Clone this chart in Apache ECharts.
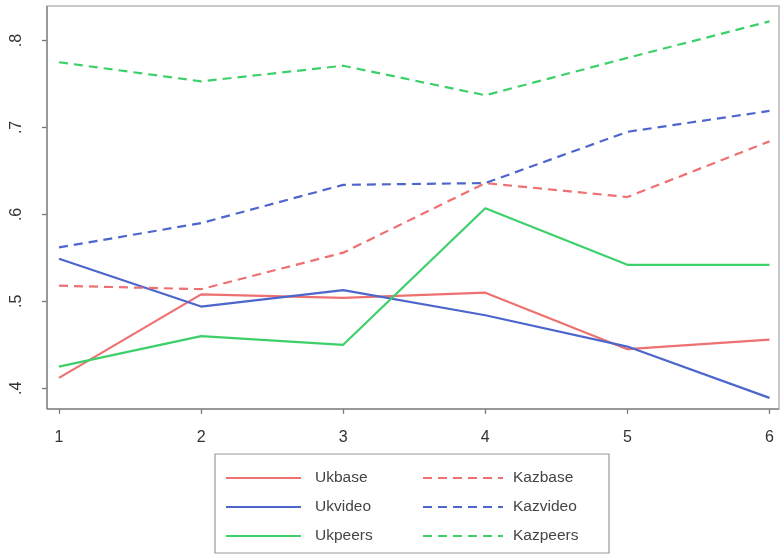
<!DOCTYPE html>
<html>
<head>
<meta charset="utf-8">
<script src="https://cdn.jsdelivr.net/npm/echarts@6/dist/echarts.min.js"></script>
<style>html,body{margin:0;padding:0;background:#fff;}#c{width:781px;height:555px;}</style>
</head>
<body>
<div id="c"></div>
<script>
const periods = [1, 2, 3, 4, 5, 6];
const ukbase   = [0.412, 0.508, 0.504, 0.510, 0.445, 0.456];
const ukvideo  = [0.549, 0.494, 0.513, 0.484, 0.448, 0.389];
const ukpeers  = [0.425, 0.460, 0.450, 0.607, 0.542, 0.542];
const kazbase  = [0.518, 0.514, 0.556, 0.636, 0.620, 0.684];
const kazvideo = [0.562, 0.590, 0.634, 0.636, 0.695, 0.719];
const kazpeers = [0.775, 0.753, 0.771, 0.737, 0.780, 0.822];
const yTicks = [0.4, 0.5, 0.6, 0.7, 0.8];

const RED = '#ee7070', BLUE = '#4d66cc', GREEN = '#3dd06a';
const FONT = 'Liberation Sans';
const pairs = arr => periods.map((p, i) => [p, arr[i]]);
function mk(name, arr, color, dashed) {
  return {
    name, type: 'line', data: pairs(arr), symbol: 'none', clip: false,
    lineStyle: { color, width: 2.2, type: dashed ? [9, 6] : 'solid' },
    itemStyle: { color }, animation: false
  };
}
const legendCommon = {
  orient: 'vertical', top: 470, height: 120, padding: 0, itemHeight: 14, itemGap: 13,
  itemStyle: { opacity: 0, borderWidth: 0 }
};
const chart = echarts.init(document.getElementById('c'));
chart.setOption({
  backgroundColor: '#fff',
  animation: false,
  grid: { left: 59, right: 11.5, top: 40.5, bottom: 166.7 },
  xAxis: {
    type: 'value', min: periods[0], max: periods[periods.length - 1], interval: 1,
    offset: 20.5,
    axisLine: { show: false },
    axisTick: { show: true, length: 5, lineStyle: { color: '#777', width: 1.3 } },
    axisLabel: { margin: 21, fontFamily: FONT, fontSize: 16, color: '#333' },
    splitLine: { show: false }
  },
  yAxis: {
    type: 'value', min: yTicks[0], max: yTicks[yTicks.length - 1], interval: 0.1,
    offset: 12,
    axisLine: { show: false },
    axisTick: { show: true, length: 5, lineStyle: { color: '#777', width: 1.3 } },
    axisLabel: {
      rotate: 90, margin: 22, fontFamily: FONT, fontSize: 16, color: '#333',
      formatter: v => v.toFixed(1).replace(/^0/, '')
    },
    splitLine: { show: false }
  },
  legend: [
    Object.assign({
      data: ['Ukbase', 'Ukvideo', 'Ukpeers'], left: 225, itemWidth: 75,
      textStyle: { fontFamily: FONT, fontSize: 15.5, color: '#444', padding: [0, 0, 0, 9] }
    }, legendCommon),
    Object.assign({
      data: ['Kazbase', 'Kazvideo', 'Kazpeers'], left: 422, itemWidth: 80,
      textStyle: { fontFamily: FONT, fontSize: 15.5, color: '#444', padding: [0, 0, 0, 5] }
    }, legendCommon)
  ],
  graphic: [
    { type: 'rect', shape: { x: 47, y: 6, width: 732, height: 403 },
      style: { fill: null, stroke: '#b8b8b8', lineWidth: 1.5 }, z: 0 },
    { type: 'line', shape: { x1: 47, y1: 6, x2: 47, y2: 409 },
      style: { stroke: '#888', lineWidth: 1.5 }, z: 1 },
    { type: 'line', shape: { x1: 47, y1: 409, x2: 779, y2: 409 },
      style: { stroke: '#888', lineWidth: 1.5 }, z: 1 },
    { type: 'rect', shape: { x: 215, y: 454, width: 394, height: 99 },
      style: { fill: null, stroke: '#999', lineWidth: 1.2 }, z: 0 }
  ],
  series: [
    mk('Ukbase', ukbase, RED, false),
    mk('Ukvideo', ukvideo, BLUE, false),
    mk('Ukpeers', ukpeers, GREEN, false),
    mk('Kazbase', kazbase, RED, true),
    mk('Kazvideo', kazvideo, BLUE, true),
    mk('Kazpeers', kazpeers, GREEN, true)
  ]
});
</script>
</body>
</html>
